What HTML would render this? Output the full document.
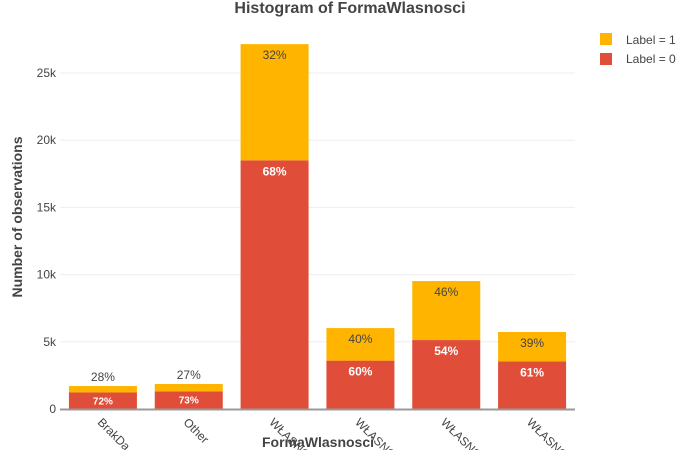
<!DOCTYPE html>
<html><head><meta charset="utf-8"><style>
html,body{margin:0;background:#fff;width:700px;height:450px;overflow:hidden;}
svg{display:block;overflow:hidden;font-family:"Liberation Sans","DejaVu Sans",sans-serif;}
</style></head><body>
<svg id="chart" width="700" height="450" viewBox="0 0 700 450"></svg>
<script>
const categories=["BrakDanych","Other","WŁASNOŚĆ PRYWATNA","WŁASNOŚĆ SKARBU","WŁASNOŚĆ SPÓŁDZIELCZA","WŁASNOŚĆ GMINY"];
const label0=[1230,1300,18500,3600,5130,3540];
const label1=[480,560,8650,2420,4390,2190];
const pct0=["72%","73%","68%","60%","54%","61%"];
const pct1=["28%","27%","32%","40%","46%","39%"];
const yTicks=[0,5000,10000,15000,20000,25000];
const yTickLabels=["0","5k","10k","15k","20k","25k"];

const NS="http://www.w3.org/2000/svg";
const svg=document.getElementById('chart');
const x0=60,x1=575,yB=409,yT=73;
const y=v=>yB-(v/25000)*(yB-yT);
const step=(x1-x0)/categories.length;
const xc=i=>x0+step*(i+0.5);
const bw=68;
function mk(t,a,txt){const e=document.createElementNS(NS,t);for(const k in a)e.setAttribute(k,a[k]);if(txt!==undefined)e.textContent=txt;svg.appendChild(e);return e;}

yTicks.forEach((v,i)=>{
  if(v>0){const g=mk('line',{x1:x0,x2:x1,y1:y(v),y2:y(v),stroke:'#eee','stroke-width':1});
  
  }
  const t=mk('text',{x:x0-4,y:y(v)+4,'text-anchor':'end','font-size':12,fill:'#444'},yTickLabels[i]);
  
  
});

categories.forEach((c,i)=>{
  const cx=xc(i);
  const r=mk('rect',{x:cx-bw/2,y:y(label0[i]),width:bw,height:yB-y(label0[i]),fill:'#e04e39'});
  
  
  const tot=label0[i]+label1[i];
  const o=mk('rect',{x:cx-bw/2,y:y(tot),width:bw,height:y(label0[i])-y(tot),fill:'#ffb500'});
  
  
  const small=(yB-y(label0[i]))<25;
  const p0=mk('text',{x:cx,y:small?y(label0[i])+12:y(label0[i])+15,'text-anchor':'middle','font-size':small?10:12,'font-weight':'bold',fill:'#fff'},pct0[i]);
  
  
  const smallT=(y(label0[i])-y(tot))<25;
  const p1=mk('text',{x:cx,y:smallT?y(tot)-5:y(tot)+15,'text-anchor':'middle','font-size':12,fill:'#444'},pct1[i]);
  
  
  const xl=mk('text',{x:cx-6,y:yB+14,'font-size':12,fill:'#444',transform:`rotate(45 ${cx-6} ${yB+14})`},c.slice(0,6));
  
  
});

const ax=mk('line',{x1:x0,x2:x1,y1:yB+0.5,y2:yB+0.5,stroke:'#999','stroke-width':2});


</script>
<script>
(function(){
const NS="http://www.w3.org/2000/svg";const svg=document.getElementById('chart');
function mk(t,a,txt){const e=document.createElementNS(NS,t);for(const k in a)e.setAttribute(k,a[k]);if(txt!==undefined)e.textContent=txt;svg.appendChild(e);return e;}
let e;
e=mk('text',{x:350,y:13,'text-anchor':'middle','font-size':16,'font-weight':'bold',fill:'#444'},'Histogram of FormaWlasnosci');


e=mk('text',{x:318,y:447,'text-anchor':'middle','font-size':14,'font-weight':'bold',fill:'#444'},'FormaWlasnosci');


e=mk('text',{x:22,y:217,'text-anchor':'middle','font-size':14,'font-weight':'bold',fill:'#444',transform:'rotate(-90 22 217)'},'Number of observations');


e=mk('rect',{x:600,y:33,width:12,height:12,fill:'#ffb500'});


e=mk('text',{x:626,y:44,'font-size':12,fill:'#444'},'Label = 1');


e=mk('rect',{x:600,y:53,width:12,height:12,fill:'#e04e39'});


e=mk('text',{x:626,y:63,'font-size':12,fill:'#444'},'Label = 0');


})();
</script>
</body></html>
